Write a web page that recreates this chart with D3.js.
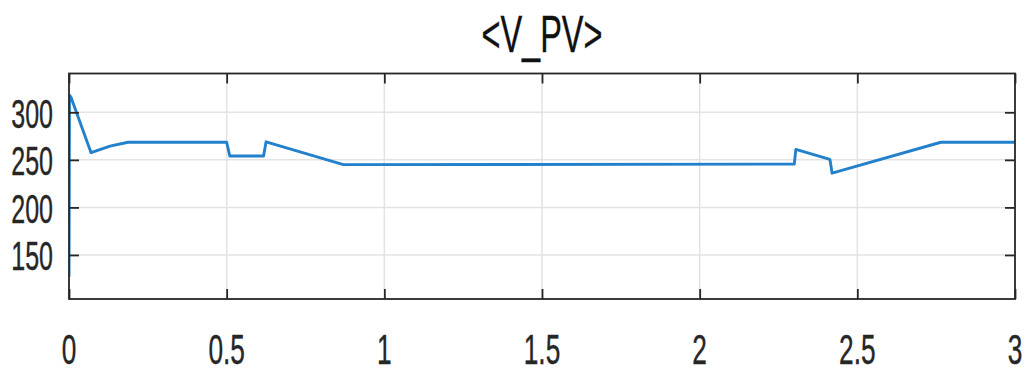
<!DOCTYPE html>
<html><head><meta charset="utf-8">
<script src="https://cdn.jsdelivr.net/npm/d3@7"></script>
<style>html,body{margin:0;padding:0;background:#fff;}svg{display:block;}</style>
</head><body>
<svg id="c" width="1027" height="371"></svg>
<script>
const title = "<V_PV>";
const timeVals = [0, 0.0015, 0.006, 0.07, 0.1, 0.13, 0.187, 0.5, 0.51, 0.617, 0.625, 0.87, 2.30, 2.305, 2.413, 2.42, 2.765, 3.0];
const vpvVals  = [127, 318, 316, 257.5, 261, 264.5, 268.5, 268.5, 254, 254, 269, 245, 245.5, 261, 250.6, 236, 268.5, 268.5];
const xTicks = [0, 0.5, 1, 1.5, 2, 2.5, 3];
const xTickLabels = ["0", "0.5", "1", "1.5", "2", "2.5", "3"];
const yTicks = [150, 200, 250, 300];
const yTickLabels = ["150", "200", "250", "300"];

const svg = d3.select("#c");
const L = 69, R = 1015, T = 73.5, B = 299;
const x = d3.scaleLinear().domain([0, 3]).range([L, R]);
const y = d3.scaleLinear().domain([103.7, 340.8]).range([B, T]);
const sx = 0.625;
const font = "'Liberation Sans', Arial, sans-serif";

// grid
const grid = svg.append("g");
grid.selectAll("line.gx").data(xTicks.slice(1, -1)).join("line")
  .attr("x1", d => x(d)).attr("x2", d => x(d)).attr("y1", T).attr("y2", B)
  .attr("stroke", "#e3e3e3").attr("stroke-width", 1.5);
grid.selectAll("line.gy").data(yTicks).join("line")
  .attr("y1", d => y(d)).attr("y2", d => y(d)).attr("x1", L).attr("x2", R)
  .attr("stroke", "#e3e3e3").attr("stroke-width", 1.5);

// clip
svg.append("clipPath").attr("id", "clip").append("rect")
  .attr("x", L).attr("y", T).attr("width", R - L).attr("height", B - T);

// line
const data = timeVals.map((t, i) => [t, vpvVals[i]]);
svg.append("path").datum(data)
  .attr("clip-path", "url(#clip)")
  .attr("fill", "none").attr("stroke", "#2380cb").attr("stroke-width", 2.9)
  .attr("stroke-linejoin", "round")
  .attr("d", d3.line().x(d => x(d[0])).y(d => y(d[1])));

// axes with inward ticks on all sides
const tl = 10;
const axB = d3.axisBottom(x).tickValues(xTicks).tickSize(-tl).tickFormat("");
const axT = d3.axisTop(x).tickValues(xTicks).tickSize(-tl).tickFormat("");
const axLf = d3.axisLeft(y).tickValues(yTicks).tickSize(-tl).tickFormat("");
const axRt = d3.axisRight(y).tickValues(yTicks).tickSize(-tl).tickFormat("");
function style(g) {
  g.select(".domain").remove();
  g.selectAll(".tick line").attr("stroke", "#262626").attr("stroke-width", 1.8);
}
svg.append("g").attr("transform", `translate(0,${B})`).call(axB).call(style);
svg.append("g").attr("transform", `translate(0,${T})`).call(axT).call(style);
svg.append("g").attr("transform", `translate(${L},0)`).call(axLf).call(style);
svg.append("g").attr("transform", `translate(${R},0)`).call(axRt).call(style);

// box
svg.append("rect").attr("x", L).attr("y", T).attr("width", R - L).attr("height", B - T)
  .attr("fill", "none").attr("stroke", "#262626").attr("stroke-width", 1.8);

// tick labels (horizontally condensed)
svg.selectAll("g.xl").data(xTicks).join("g")
  .attr("transform", d => `translate(${x(d)},364) scale(${sx},1)`)
  .append("text").attr("text-anchor", "middle")
  .attr("font-family", font).attr("font-size", 42).attr("fill", "#262626")
  .attr("stroke", "#262626").attr("stroke-width", 0.4)
  .text((d, i) => xTickLabels[i]);
svg.selectAll("g.yl").data(yTicks).join("g")
  .attr("transform", d => `translate(53,${y(d) + 15.5}) scale(${sx},1)`)
  .append("text").attr("text-anchor", "end")
  .attr("font-family", font).attr("font-size", 40).attr("fill", "#262626")
  .attr("stroke", "#262626").attr("stroke-width", 0.4)
  .text((d, i) => yTickLabels[i]);

// title
svg.append("g").attr("transform", `translate(${(L + R) / 2},52) scale(${sx},1)`)
  .append("text").attr("text-anchor", "middle")
  .attr("font-family", font).attr("font-size", 52).attr("fill", "#111")
  .attr("stroke", "#111").attr("stroke-width", 0.4)
  .text(title);
</script>
</body></html>
